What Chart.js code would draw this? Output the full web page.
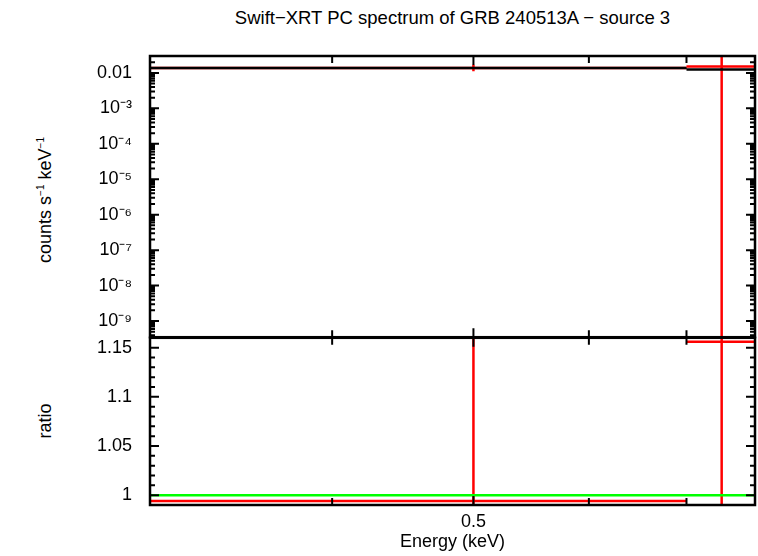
<!DOCTYPE html>
<html><head><meta charset="utf-8">
<script src="https://cdn.jsdelivr.net/npm/chart.js@4"></script>
<style>body{margin:0;background:#fff;width:758px;height:556px;position:relative;overflow:hidden;font-family:"Liberation Sans",Arial,sans-serif}
canvas{position:absolute;left:0}
.t{position:absolute;font-size:17px;color:#000;white-space:nowrap}</style></head><body>
<div class="t" style="left:0;width:905px;text-align:center;top:7px;font-size:18.5px">Swift−XRT PC spectrum of GRB 240513A − source 3</div>
<div class="t" style="left:45px;top:200px;transform:translate(-50%,-50%) rotate(-90deg);font-size:18px">counts s<sup style="font-size:10px">−1</sup> keV<sup style="font-size:10px">−1</sup></div>
<div class="t" style="left:45px;top:421px;transform:translate(-50%,-50%) rotate(-90deg);font-size:18px">ratio</div>
<div style="position:absolute;left:0;top:0;width:758px;height:358px"><canvas id="c1"></canvas></div>
<div style="position:absolute;left:0;top:317px;width:758px;height:239px"><canvas id="c2"></canvas></div>
<script>
const xRange=[0.3,0.78];
const xMajor=[0.5], xMinor=[0.4,0.6,0.7];
const xTickLabels=['0.5'];
const specRange=[3.5e-10,0.03];
const specTicks=[1e-2,1e-3,1e-4,1e-5,1e-6,1e-7,1e-8,1e-9];
const specTickLabels=['0.01','10⁻³','10⁻⁴','10⁻⁵','10⁻⁶','10⁻⁷','10⁻⁸','10⁻⁹'];
const ratioRange=[0.99,1.16];
const ratioTicks=[1,1.05,1.1,1.15];
const ratioTickLabels=['1','1.05','1.1','1.15'];
// data bins
const binLo=[0.3,0.7], binHi=[0.7,0.78], binC=[0.5,0.74];
const specVal=[0.0138,0.0152], specErrLo=[0.0111,1e-14], specErrHi=[0.0169,1];
const modelVal=[0.0138,0.0125];
const ratioVal=[0.994,1.156], ratioErrLo=[-1,-1], ratioErrHi=[3,3];
const modelRatio=[1,1];

function errSegs(lo,hi,c,v,el,eh){const d=[];for(let i=0;i<lo.length;i++){d.push({x:lo[i],y:v[i]},{x:hi[i],y:v[i]},{x:NaN,y:null},{x:c[i],y:el[i]},{x:c[i],y:eh[i]},{x:NaN,y:null});}return d;}
function stepSegs(lo,hi,v){const d=[];for(let i=0;i<lo.length;i++){d.push({x:lo[i],y:v[i]},{x:hi[i],y:v[i]},{x:NaN,y:null});}return d;}

function frame(yt,yMinor){return{id:'f',afterDraw(ch){const c=ch.ctx,a=ch.chartArea,xs=ch.scales.x,ys=ch.scales.y;c.save();c.strokeStyle='#000';c.lineWidth=2.5;c.strokeRect(a.left,a.top,a.right-a.left,a.bottom-a.top);
c.lineWidth=2;c.beginPath();
const tk=(x,L)=>{c.moveTo(x,a.top);c.lineTo(x,a.top+L);c.moveTo(x,a.bottom);c.lineTo(x,a.bottom-L);};
xMajor.forEach(v=>tk(xs.getPixelForValue(v),9));xMinor.forEach(v=>tk(xs.getPixelForValue(v),7));
const ty=(y,L)=>{if(y<a.top-0.5||y>a.bottom+0.5)return;c.moveTo(a.left,y);c.lineTo(a.left+L,y);c.moveTo(a.right,y);c.lineTo(a.right-L,y);};
yt.forEach(v=>ty(ys.getPixelForValue(v),9));yMinor.forEach(v=>ty(ys.getPixelForValue(v),5));
c.stroke();c.restore();}}}
const specMinor=[];for(let e=-10;e<=-2;e++)for(let m=2;m<=9;m++)specMinor.push(m*Math.pow(10,e));
const ratioMinor=[];for(let v=0.99;v<1.165;v+=0.01)ratioMinor.push(+v.toFixed(2));

const base=(ymin,ymax,type,ticks,labels)=>({responsive:true,maintainAspectRatio:false,animation:false,events:[],
plugins:{legend:{display:false},tooltip:{enabled:false}},
scales:{x:{type:'logarithmic',min:xRange[0],max:xRange[1],display:false},
y:{type:type,min:ymin,max:ymax,border:{display:false},grid:{display:false},
afterFit(s){s.width=150;},afterBuildTicks(s){s.ticks=ticks.map(v=>({value:v}));},
ticks:{autoSkip:false,color:'#000',font:{family:'Liberation Sans',size:18},padding:10,callback:(v)=>{const i=ticks.findIndex(t=>Math.abs(t-v)/t<1e-6);return i>=0?labels[i]:'';}}}}});
const ds=(d,col,w)=>({data:d,borderColor:col,borderWidth:w,pointRadius:0,showLine:true,spanGaps:false,fill:false});

const o1=base(specRange[0],specRange[1],'logarithmic',specTicks,specTickLabels);o1.layout={padding:{top:56,right:3,bottom:0}};
new Chart(document.getElementById('c1'),{type:'scatter',data:{datasets:[ds(stepSegs(binLo,binHi,modelVal),'#000',2.5),ds(errSegs(binLo,binHi,binC,specVal,specErrLo,specErrHi),'#ff0000',2.5)]},options:o1,plugins:[frame(specTicks,specMinor)]});

const o2=base(ratioRange[0],ratioRange[1],'linear',ratioTicks,ratioTickLabels);o2.layout={padding:{top:0,right:3,bottom:51}};
new Chart(document.getElementById('c2'),{type:'scatter',data:{datasets:[ds(stepSegs(binLo,binHi,modelRatio),'#00ff00',2.5),ds(errSegs(binLo,binHi,binC,ratioVal,ratioErrLo,ratioErrHi),'#ff0000',2.5)]},options:o2,
plugins:[frame(ratioTicks,ratioMinor),{id:'xl',afterDraw(ch){const c=ch.ctx,a=ch.chartArea,xs=ch.scales.x;c.save();c.fillStyle='#000';c.font='18px "Liberation Sans"';c.textAlign='center';c.textBaseline='top';
xMajor.forEach((v,i)=>c.fillText(xTickLabels[i],xs.getPixelForValue(v),a.bottom+8));
c.fillText('Energy (keV)',(a.left+a.right)/2,a.bottom+28);c.restore();}}]});
</script></body></html>
